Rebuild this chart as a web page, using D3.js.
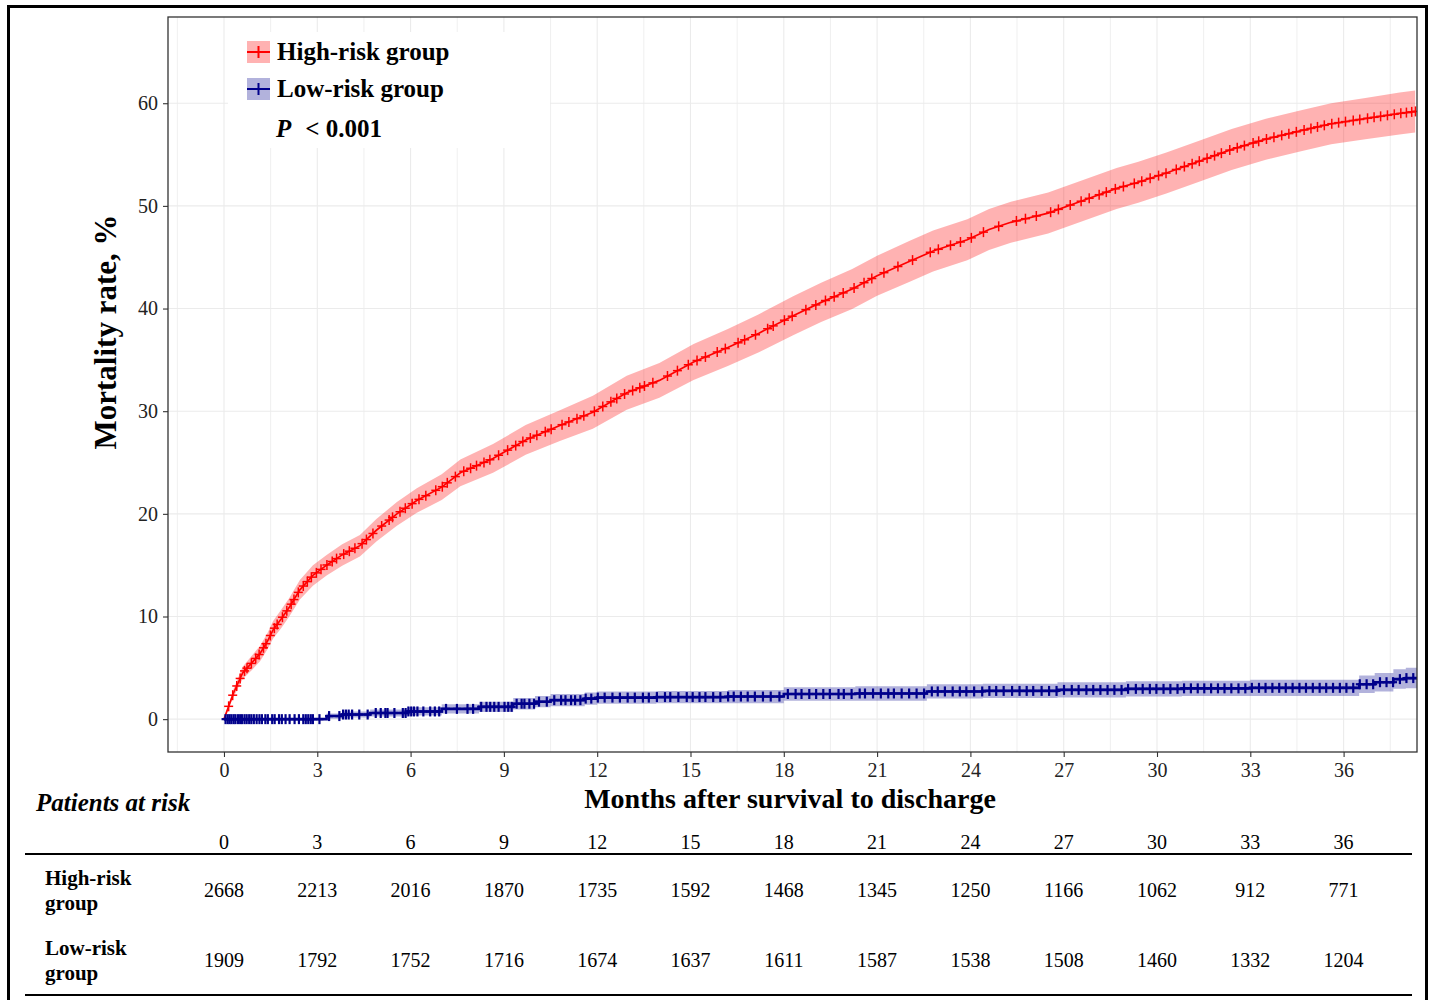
<!DOCTYPE html>
<html>
<head>
<meta charset="utf-8">
<script src="https://cdn.jsdelivr.net/npm/d3@7"></script>
<style>
  html, body { margin: 0; padding: 0; background: #fff; }
  svg text { font-family: "Liberation Serif", "Times New Roman", serif; }
</style>
</head>
<body>
<svg id="chart" width="1431" height="1000"></svg>
<script>
// ---------------- DATA ----------------
const xTicks = [0, 3, 6, 9, 12, 15, 18, 21, 24, 27, 30, 33, 36];
const yTicks = [0, 10, 20, 30, 40, 50, 60];
const groupNames = ["High-risk group", "Low-risk group"];

// High-risk group: cumulative mortality (%) and 95% CI half width
const hrTime = [0, 0.3, 0.6, 0.9, 1.16, 1.4, 1.58, 1.85, 2.1, 2.44, 2.86, 3.3, 3.8, 4.37, 4.9, 5.56, 6.2, 7.0, 7.6, 8.65, 9.7, 10.8, 11.86, 12.95, 14.0, 15.1, 16.2, 17.2, 18.3, 19.2, 20.2, 21.0, 22.05, 22.8, 23.9, 24.6, 25.3, 26.5, 27.6, 28.7, 29.4, 30.3, 31.4, 32.4, 33.5, 34.6, 35.6, 36.7, 37.8, 38.3];
const hrRate = [0, 2.5, 4.5, 5.5, 6.4, 7.6, 8.7, 9.8, 10.9, 12.6, 14.0, 15.0, 16.0, 16.9, 18.4, 20.0, 21.3, 22.6, 24.0, 25.4, 27.2, 28.6, 29.9, 31.8, 33.0, 34.8, 36.2, 37.6, 39.3, 40.6, 41.9, 43.2, 44.6, 45.6, 46.7, 47.7, 48.4, 49.3, 50.5, 51.7, 52.3, 53.2, 54.4, 55.5, 56.5, 57.3, 58.0, 58.5, 59.0, 59.2];
const hrCiHalf = [0, 0.4, 0.6, 0.7, 0.75, 0.8, 0.85, 0.9, 0.9, 0.95, 1.0, 1.0, 1.05, 1.05, 1.1, 1.15, 1.2, 1.25, 1.3, 1.4, 1.45, 1.5, 1.6, 1.65, 1.7, 1.75, 1.8, 1.85, 1.9, 1.9, 1.95, 1.95, 2.0, 2.0, 2.0, 2.0, 2.0, 2.0, 2.0, 2.0, 2.0, 2.0, 2.0, 2.0, 2.0, 2.0, 2.0, 2.0, 2.05, 2.05];
const hrCensor = [0.15,0.28,0.41,0.52,0.66,0.74,0.88,1.02,1.13,1.27,1.35,1.49,1.62,1.71,1.88,2.02,2.16,2.25,2.39,2.55,2.68,2.81,2.97,3.12,3.31,3.48,3.62,3.85,4.03,4.21,4.44,4.58,4.79,5.07,5.31,5.42,5.66,5.83,6.05,6.27,6.49,6.81,7.02,7.18,7.44,7.71,7.93,8.12,8.36,8.55,8.83,9.12,9.38,9.61,9.85,10.06,10.33,10.52,10.87,11.09,11.35,11.57,11.91,12.18,12.44,12.63,12.88,13.14,13.37,13.52,13.79,14.26,14.58,14.93,15.21,15.48,15.86,16.12,16.53,16.74,17.09,17.48,17.66,18.02,18.27,18.71,19.03,19.34,19.62,19.91,20.26,20.58,20.83,21.22,21.67,22.14,22.71,22.97,23.36,23.68,24.03,24.42,24.91,25.48,25.77,26.12,26.58,26.83,27.21,27.56,27.82,28.14,28.37,28.66,28.92,29.27,29.51,29.78,30.05,30.29,30.62,30.88,31.13,31.36,31.61,31.85,32.07,32.34,32.58,32.81,33.09,33.27,33.52,33.76,34.01,34.24,34.48,34.73,34.95,35.16,35.38,35.62,35.84,36.06,36.31,36.52,36.77,36.98,37.19,37.41,37.63,37.84,38.02,38.19,38.31];

// Low-risk group: cumulative mortality (%) step values and 95% CI half width
const lrTime = [0, 3.3, 3.8, 4.7, 5.9, 7.0, 8.2, 9.3, 10.0, 10.5, 11.6, 12.0, 13.9, 16.2, 18.0, 20.3, 22.6, 24.4, 26.8, 29.0, 30.8, 33.0, 36.5, 37.0, 37.6, 38.0, 38.36];
const lrRate = [0, 0.3, 0.45, 0.6, 0.75, 1.0, 1.2, 1.5, 1.7, 1.85, 2.0, 2.1, 2.15, 2.2, 2.45, 2.5, 2.7, 2.75, 2.85, 2.95, 3.0, 3.05, 3.4, 3.6, 3.9, 4.0, 4.0];
const lrCiHalf = [0, 0.25, 0.3, 0.35, 0.4, 0.45, 0.5, 0.55, 0.55, 0.6, 0.6, 0.6, 0.6, 0.65, 0.65, 0.7, 0.7, 0.7, 0.75, 0.75, 0.75, 0.8, 0.85, 0.9, 0.95, 1.0, 1.0];
const lrCensor = [0.05,0.12,0.18,0.24,0.31,0.37,0.45,0.52,0.58,0.66,0.73,0.81,0.88,0.96,1.05,1.14,1.22,1.33,1.41,1.55,1.63,1.77,1.86,1.98,2.11,2.27,2.41,2.55,2.63,2.71,2.79,2.86,3.07,3.38,3.71,3.83,3.92,4.01,4.12,4.35,4.62,4.88,5.04,5.19,5.26,5.48,5.75,5.84,5.93,6.02,6.11,6.22,6.41,6.63,6.78,6.92,7.14,7.49,7.83,8.01,8.27,8.44,8.56,8.69,8.83,9.02,9.14,9.25,9.41,9.57,9.66,9.82,9.97,10.13,10.38,10.62,10.84,10.98,11.16,11.29,11.46,11.63,11.81,12.02,12.24,12.49,12.73,12.98,13.21,13.47,13.66,13.92,14.18,14.35,14.61,14.88,15.07,15.29,15.48,15.73,15.96,16.21,16.39,16.62,16.84,17.07,17.33,17.58,17.86,18.13,18.38,18.57,18.82,19.04,19.27,19.48,19.76,19.93,20.18,20.44,20.61,20.87,21.12,21.36,21.54,21.79,22.03,22.27,22.51,22.76,22.95,23.18,23.43,23.66,23.87,24.12,24.38,24.61,24.83,25.07,25.34,25.58,25.81,26.02,26.29,26.53,26.77,27.01,27.26,27.48,27.73,27.95,28.18,28.41,28.63,28.86,29.07,29.32,29.54,29.77,29.98,30.21,30.43,30.66,30.87,31.09,31.31,31.52,31.74,31.96,32.17,32.39,32.62,32.84,33.05,33.28,33.49,33.71,33.93,34.14,34.36,34.58,34.79,35.01,35.23,35.44,35.66,35.88,36.09,36.31,36.52,36.74,36.95,37.17,37.38,37.59,37.81,38.02,38.24];

// Patients at risk
const riskHigh = [2668, 2213, 2016, 1870, 1735, 1592, 1468, 1345, 1250, 1166, 1062, 912, 771];
const riskLow  = [1909, 1792, 1752, 1716, 1674, 1637, 1611, 1587, 1538, 1508, 1460, 1332, 1204];

// ---------------- DRAWING ----------------
const svg = d3.select("#chart");
const P = { left: 168, right: 1417, top: 17, bottom: 752 };
const x = d3.scaleLinear().domain([-1.8, 38.36]).range([P.left, P.right]);
const y = d3.scaleLinear().domain([-3.2, 68.4]).range([P.bottom, P.top]);

const RED = "#ff0000", BLUE = "#00008b";
const RED_FILL = "rgba(255,0,0,0.3)", BLUE_FILL = "rgba(0,0,139,0.3)";

svg.append("rect").attr("width", 1431).attr("height", 1000).attr("fill", "#fff");

// outer frame
svg.append("rect").attr("x", 8.5).attr("y", 6.5).attr("width", 1418).attr("height", 1010)
  .attr("fill", "none").attr("stroke", "#000").attr("stroke-width", 3);

// clip
svg.append("clipPath").attr("id", "panelClip").append("rect")
  .attr("x", P.left).attr("y", P.top).attr("width", P.right - P.left).attr("height", P.bottom - P.top);

// grid
const grid = svg.append("g");
const xMinor = d3.range(-1.5, 38.4, 3);
grid.selectAll(".xminor").data(xMinor).join("line")
  .attr("x1", d => x(d)).attr("x2", d => x(d)).attr("y1", P.top).attr("y2", P.bottom)
  .attr("stroke", "#ebebeb").attr("stroke-width", 0.8);
grid.selectAll(".xmajor").data(xTicks).join("line")
  .attr("x1", d => x(d)).attr("x2", d => x(d)).attr("y1", P.top).attr("y2", P.bottom)
  .attr("stroke", "#ebebeb").attr("stroke-width", 1.1);
grid.selectAll(".ymajor").data(yTicks).join("line")
  .attr("x1", P.left).attr("x2", P.right).attr("y1", d => y(d)).attr("y2", d => y(d))
  .attr("stroke", "#ebebeb").attr("stroke-width", 1.1);

// legend background (covers grid)
svg.append("rect").attr("x", 228).attr("y", 32).attr("width", 322).attr("height", 116).attr("fill", "#fff");

const plot = svg.append("g").attr("clip-path", "url(#panelClip)");

// High-risk band & line (linear)
const hrData = hrTime.map((t, i) => ({ t, v: hrRate[i], lo: hrRate[i] - hrCiHalf[i], hi: hrRate[i] + hrCiHalf[i] }));
plot.append("path").datum(hrData)
  .attr("d", d3.area().x(d => x(d.t)).y0(d => y(d.lo)).y1(d => y(d.hi)).curve(d3.curveLinear))
  .attr("fill", RED_FILL);

// Low-risk band & line (step)
const lrData = lrTime.map((t, i) => ({ t, v: lrRate[i], lo: Math.max(0, lrRate[i] - lrCiHalf[i]), hi: lrRate[i] + lrCiHalf[i] }));
plot.append("path").datum(lrData)
  .attr("d", d3.area().x(d => x(d.t)).y0(d => y(d.lo)).y1(d => y(d.hi)).curve(d3.curveStepAfter))
  .attr("fill", BLUE_FILL);

plot.append("path").datum(hrData)
  .attr("d", d3.line().x(d => x(d.t)).y(d => y(d.v)).curve(d3.curveLinear))
  .attr("fill", "none").attr("stroke", RED).attr("stroke-width", 1.7);

plot.append("path").datum(lrData)
  .attr("d", d3.line().x(d => x(d.t)).y(d => y(d.v)).curve(d3.curveStepAfter))
  .attr("fill", "none").attr("stroke", BLUE).attr("stroke-width", 2.6);

// censor marks
const hrAt = d3.scaleLinear().domain(hrTime).range(hrRate);
const lrAt = t => lrRate[Math.max(0, d3.bisectRight(lrTime, t) - 1)];
function plus(g, data, fn, color, w, hArm, vArm) {
  const gg = g.append("g").attr("stroke", color).attr("stroke-width", w);
  data.forEach(t => {
    const cx = x(t), cy = y(fn(t));
    gg.append("line").attr("x1", cx - hArm).attr("x2", cx + hArm).attr("y1", cy).attr("y2", cy);
    gg.append("line").attr("x1", cx).attr("x2", cx).attr("y1", cy - vArm).attr("y2", cy + vArm);
  });
}
plus(plot, lrCensor, lrAt, BLUE, 2.2, 4, 5);
plus(plot, hrCensor, hrAt, RED, 1.5, 4.5, 5);

// panel border
svg.append("rect").attr("x", P.left).attr("y", P.top).attr("width", P.right - P.left).attr("height", P.bottom - P.top)
  .attr("fill", "none").attr("stroke", "#333").attr("stroke-width", 1.3);

// axes
const xAxis = d3.axisBottom(x).tickValues(xTicks).tickSize(5).tickPadding(5);
const gx = svg.append("g").attr("transform", `translate(0,${P.bottom})`).call(xAxis);
gx.select(".domain").remove();
gx.selectAll("line").attr("stroke", "#333").attr("stroke-width", 1.1);
gx.selectAll("text").attr("font-size", 20).attr("fill", "#222").attr("dy", "0.75em")
  .style("font-family", '"Liberation Serif", serif');

const yAxis = d3.axisLeft(y).tickValues(yTicks).tickSize(5).tickPadding(5);
const gy = svg.append("g").attr("transform", `translate(${P.left},0)`).call(yAxis);
gy.select(".domain").remove();
gy.selectAll("line").attr("stroke", "#333").attr("stroke-width", 1.1);
gy.selectAll("text").attr("font-size", 20).attr("fill", "#222")
  .style("font-family", '"Liberation Serif", serif');

// axis titles
svg.append("text").attr("transform", "translate(116,332) rotate(-90)")
  .attr("text-anchor", "middle").attr("font-size", 31).attr("font-weight", "bold").attr("fill", "#000")
  .text("Mortality rate, %");
svg.append("text").attr("x", 790).attr("y", 808)
  .attr("text-anchor", "middle").attr("font-size", 28).attr("font-weight", "bold").attr("fill", "#000")
  .text("Months after survival to discharge");

// legend
const legend = svg.append("g");
const keyFill = [RED_FILL, BLUE_FILL], keyLine = [RED, BLUE];
groupNames.forEach((name, i) => {
  const ky = 41 + i * 37;
  legend.append("rect").attr("x", 247).attr("y", ky).attr("width", 23).attr("height", 22).attr("fill", keyFill[i]);
  legend.append("line").attr("x1", 247).attr("x2", 270).attr("y1", ky + 11).attr("y2", ky + 11)
    .attr("stroke", keyLine[i]).attr("stroke-width", 2);
  legend.append("line").attr("x1", 258.5).attr("x2", 258.5).attr("y1", ky + 5).attr("y2", ky + 17)
    .attr("stroke", keyLine[i]).attr("stroke-width", 2);
  legend.append("text").attr("x", 277).attr("y", ky + 19).attr("font-size", 25).attr("font-weight", "bold")
    .attr("fill", "#000").text(name);
});
const pt = legend.append("text").attr("x", 276).attr("y", 137).attr("font-size", 25).attr("font-weight", "bold").attr("fill", "#000");
pt.append("tspan").attr("font-style", "italic").text("P");
pt.append("tspan").attr("dx", 14).text("< 0.001");

// Patients at risk table
svg.append("text").attr("x", 36).attr("y", 811).attr("font-size", 25).attr("font-weight", "bold")
  .attr("font-style", "italic").attr("fill", "#000").text("Patients at risk");

const tbl = svg.append("g");
tbl.selectAll(".hdr").data(xTicks).join("text")
  .attr("x", d => x(d)).attr("y", 849).attr("text-anchor", "middle").attr("font-size", 20).attr("fill", "#000")
  .text(d => d);
tbl.append("line").attr("x1", 25).attr("x2", 1412).attr("y1", 854).attr("y2", 854).attr("stroke", "#000").attr("stroke-width", 2);
tbl.append("line").attr("x1", 25).attr("x2", 1412).attr("y1", 995).attr("y2", 995).attr("stroke", "#000").attr("stroke-width", 2);

const rows = [
  { l1: "High-risk", l2: "group", vals: riskHigh, base: 897 },
  { l1: "Low-risk", l2: "group", vals: riskLow, base: 967 }
];
rows.forEach(r => {
  tbl.append("text").attr("x", 45).attr("y", r.base - 12).attr("font-size", 21).attr("font-weight", "bold").attr("fill", "#000").text(r.l1);
  tbl.append("text").attr("x", 45).attr("y", r.base + 13).attr("font-size", 21).attr("font-weight", "bold").attr("fill", "#000").text(r.l2);
  tbl.selectAll(null).data(r.vals).join("text")
    .attr("x", (d, i) => x(xTicks[i])).attr("y", r.base).attr("text-anchor", "middle")
    .attr("font-size", 20).attr("fill", "#000").text(d => d);
});
</script>
</body>
</html>
